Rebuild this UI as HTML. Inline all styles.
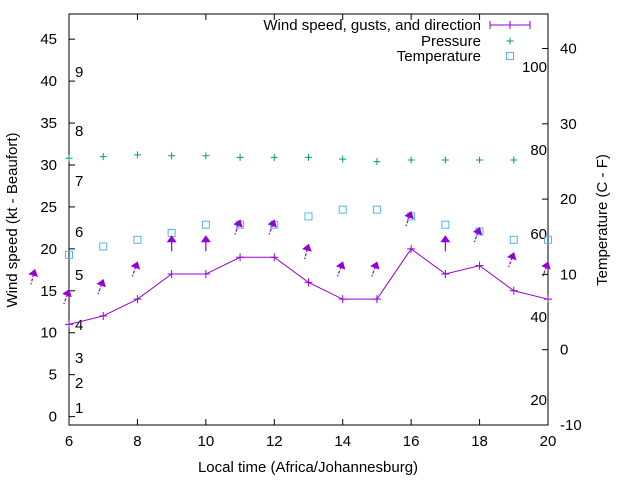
<!DOCTYPE html>
<html><head><meta charset="utf-8"><style>
body{margin:0;background:#fff}
svg text{font-family:"Liberation Sans",sans-serif;font-size:15px;fill:#000}
</style></head><body>
<svg id="c" width="640" height="480" xmlns="http://www.w3.org/2000/svg"></svg>
<script>
const hours=[6,7,8,9,10,11,12,13,14,15,16,17,18,19,20];
const windSpeed=[11,12,14,17,17,19,19,16,14,14,20,17,18,15,14];
const gustHours=[5,6,7,8,9,10,11,12,13,14,15,16,17,18,19,20];
const gusts=[17.5,15.1,16.3,18.4,21.5,21.5,23.4,23.4,20.5,18.4,18.4,24.4,21.5,22.5,19.5,18.4];
const gustDir=[15,20,20,20,0,0,20,20,15,20,20,20,0,20,20,20];
const pressureHours=[6,7,8,9,10,11,12,13,14,15,16,17,18,19];
const pressure=[30.8,31,31.2,31.1,31.1,30.9,30.9,30.9,30.7,30.4,30.6,30.6,30.6,30.6];
const temperature=[12.6,13.7,14.6,15.5,16.6,16.6,16.6,17.7,18.6,18.6,17.7,16.6,15.7,14.6,14.6];
const leftTicks=[0,5,10,15,20,25,30,35,40,45];
const rightTicks=[-10,0,10,20,30,40];
const xTicks=[6,8,10,12,14,16,18,20];
const beaufort=[[1,408],[2,383],[3,358],[4,325],[5,275],[6,232],[7,181],[8,131],[9,72]];
const fahr=[[100,67],[80,150],[60,234],[40,317],[20,400]];
const L=69,R=548,T=14,B=425;
const X=h=>L+(h-6)*(R-L)/14;
const YL=v=>B-(v+1)*(B-T)/49;
const YR=v=>B-(v+10)*7.53;
const s=document.getElementById('c');const NS='http://www.w3.org/2000/svg';
function el(t,a,txt){const e=document.createElementNS(NS,t);for(const k in a)e.setAttribute(k,a[k]);if(txt!==undefined)e.textContent=txt;s.appendChild(e);return e;}
let e=el('rect',{x:L,y:T,width:R-L,height:B-T,fill:'none',stroke:'#000','stroke-width':1});

leftTicks.forEach(v=>{const y=YL(v);el('line',{x1:L,x2:L+6,y1:y,y2:y,stroke:'#000'});
 e=el('text',{x:57,y:y+5,'text-anchor':'end'},v);});
rightTicks.forEach(v=>{const y=YR(v);el('line',{x1:R-6,x2:R,y1:y,y2:y,stroke:'#000'});
 e=el('text',{x:560,y:y+5},v);});
xTicks.forEach(v=>{const x=X(v);el('line',{x1:x,x2:x,y1:B,y2:B-6,stroke:'#000'});el('line',{x1:x,x2:x,y1:T,y2:T+6,stroke:'#000'});
 e=el('text',{x:x,y:446,'text-anchor':'middle'},v);});
beaufort.forEach(b=>{e=el('text',{x:75,y:b[1]+5},b[0]);});
fahr.forEach(b=>{e=el('text',{x:547,y:b[1]+5,'text-anchor':'end'},b[0]);});
e=el('text',{x:308,y:472,'text-anchor':'middle'},'Local time (Africa/Johannesburg)');
e=el('text',{x:0,y:0,'text-anchor':'middle',transform:'translate(17,220) rotate(-90)'},'Wind speed (kt - Beaufort)');
e=el('text',{x:0,y:0,'text-anchor':'middle',transform:'translate(607,220) rotate(-90)'},'Temperature (C - F)');
// temperature
temperature.forEach((v,i)=>{e=el('rect',{x:X(hours[i])-3.5,y:YR(v)-3.5,width:7,height:7,fill:'none',stroke:'#56b4e9'});});
// pressure
pressure.forEach((v,i)=>{const x=X(pressureHours[i]),y=YL(v);e=el('path',{d:`M${x-3.5} ${y}H${x+3.5}M${x} ${y-3.5}V${y+3.5}`,stroke:'#009e73'});});
// gust arrows
gusts.forEach((v,i)=>{const x=X(gustHours[i]),y=YL(v),a=gustDir[i]*Math.PI/180,len=15;
 const tx=x-Math.sin(a)*len,ty=y+Math.cos(a)*len;
 const g=document.createElementNS(NS,'g');s.appendChild(g);
 
 
 g.setAttribute('transform',`rotate(${gustDir[i]} ${x} ${y})`);
 g.innerHTML=`<line x1="${x}" y1="${y}" x2="${x}" y2="${y+len}" stroke="#9400d3" stroke-width="1.2" stroke-dasharray="${gustDir[i]?'3,1.5':'none'}"/><path d="M${x} ${y-1}L${x-5} ${y+6}L${x+5} ${y+6}Z" fill="#9400d3"/>`;});
// wind speed line
let d='';windSpeed.forEach((v,i)=>{d+=(i?'L':'M')+X(hours[i])+' '+YL(v);});
e=el('path',{d:d,fill:'none',stroke:'#9400d3','stroke-width':1});
windSpeed.forEach((v,i)=>{const x=X(hours[i]),y=YL(v);e=el('path',{d:`M${x-4} ${y}H${x+4}M${x} ${y-4}V${y+4}`,stroke:'#9400d3'});});
// legend
e=el('text',{x:481,y:30,'text-anchor':'end'},'Wind speed, gusts, and direction');
el('path',{d:'M490 25H530M490 21V29M530 21V29M510 21V29',stroke:'#9400d3'});
e=el('text',{x:481,y:46,'text-anchor':'end'},'Pressure');
el('path',{d:'M506.5 41H513.5M510 37.5V44.5',stroke:'#009e73'});
e=el('text',{x:481,y:61,'text-anchor':'end'},'Temperature');
el('rect',{x:506.5,y:52.5,width:7,height:7,fill:'none',stroke:'#56b4e9'});
</script></body></html>
